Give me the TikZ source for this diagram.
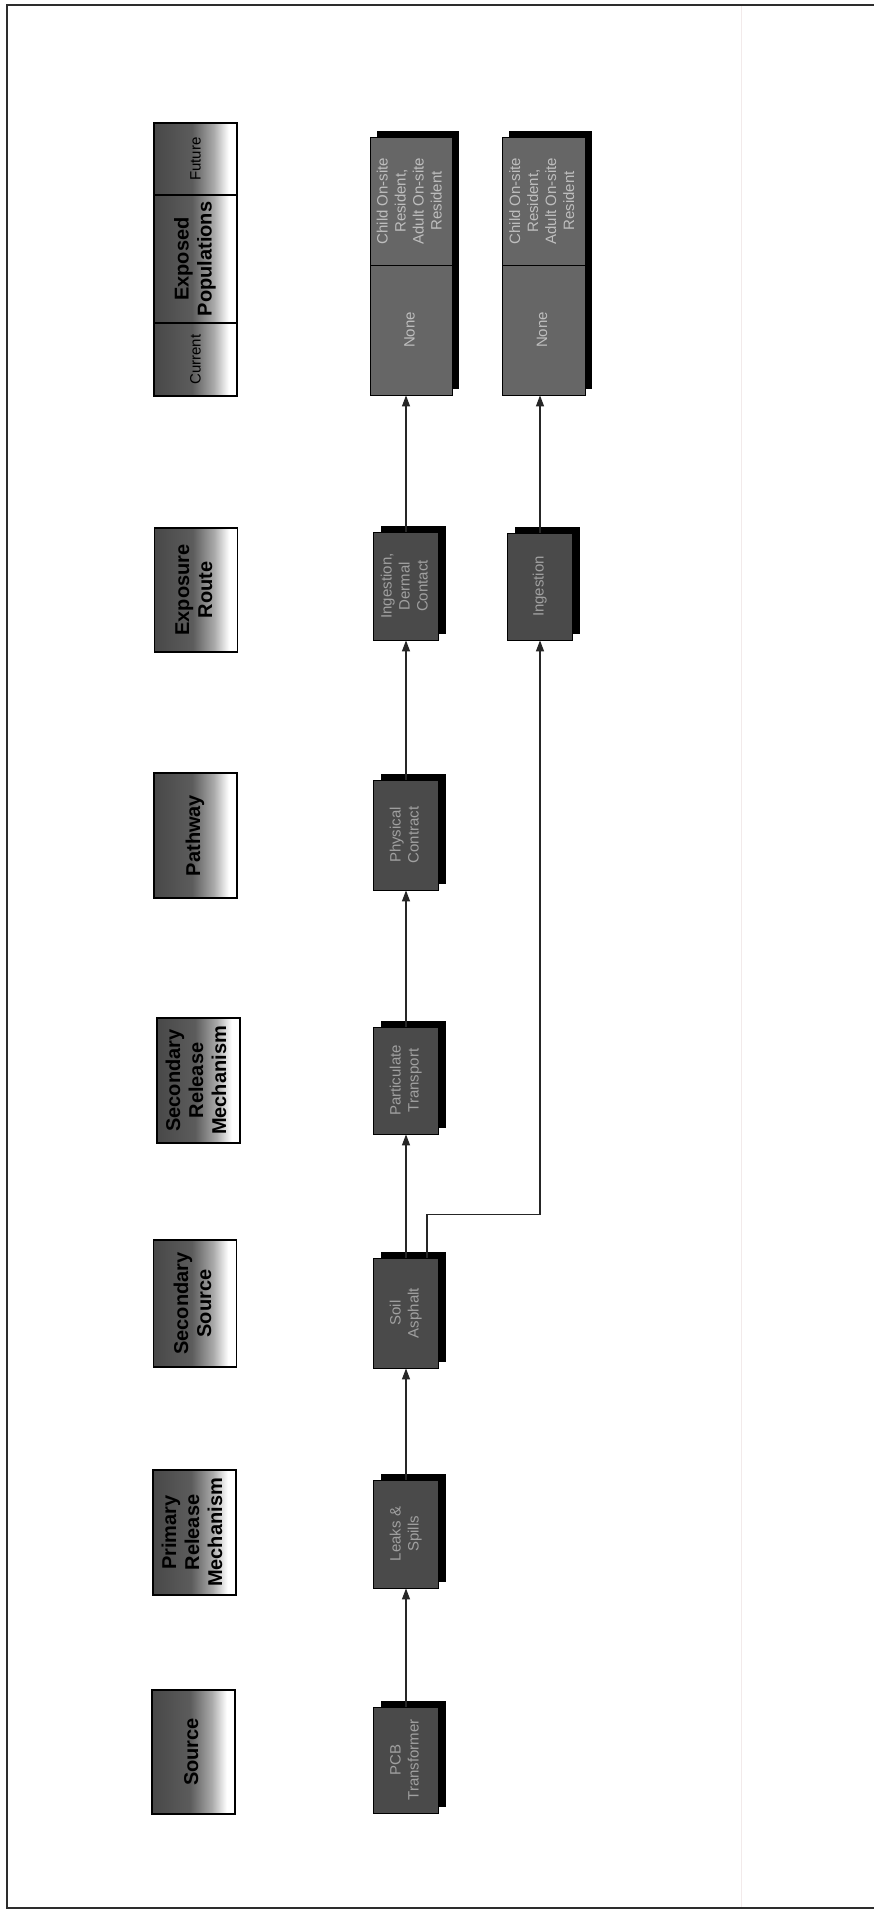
\documentclass[tikz,border=0pt]{standalone}
\usepackage{fontspec}
\setmainfont{Liberation Sans}
\usepackage{graphicx}
\usetikzlibrary{arrows.meta,shadows}
\definecolor{hdark}{RGB}{72,72,72}
\definecolor{hmidA}{RGB}{92,92,92}
\definecolor{hmidB}{RGB}{170,170,170}
\definecolor{cfill}{RGB}{74,74,74}
\definecolor{ctext}{RGB}{160,160,160}
\definecolor{efill}{RGB}{102,102,102}
\definecolor{etext}{RGB}{190,190,190}
\definecolor{framec}{RGB}{45,45,45}
\definecolor{faintc}{RGB}{242,234,234}
\pgfdeclarehorizontalshading{hdrshade}{100bp}{color(0bp)=(hdark); color(25bp)=(hdark); color(48bp)=(hmidA); color(61bp)=(hmidB); color(70bp)=(white); color(100bp)=(white)}
\newcommand{\hdrtext}[1]{\rotatebox{90}{\fontsize{20}{23}\selectfont\bfseries\begin{tabular}{@{}c@{}}#1\end{tabular}}}
\newcommand{\hdrsmall}[1]{\rotatebox{90}{\fontsize{15}{18}\selectfont #1}}
\newcommand{\ctxt}[1]{\rotatebox{90}{\fontsize{15}{18}\selectfont\begin{tabular}{@{}c@{}}#1\end{tabular}}}
\tikzset{
  hdr/.style={draw=black, line width=1.1pt, shade, shading=hdrshade, minimum width=83pt, minimum height=125pt, inner sep=0pt},
  cbox/.style={draw=black, line width=0.8pt, fill=cfill, text=ctext, minimum width=65pt, minimum height=108pt, inner sep=0pt,
    general shadow={fill=black, shadow xshift=7pt, shadow yshift=6pt}},
  ebox/.style={cbox, fill=efill, text=etext, minimum width=82pt},
  arr/.style={draw=black!85, line width=1.2pt, -{Triangle[length=11pt,width=8pt]}}
}
\begin{document}
\begin{tikzpicture}[x=1pt,y=-1pt]
\useasboundingbox (0,0) rectangle (874,1913);
\fill[white] (0,0) rectangle (874,1913);
\draw[faintc, line width=1pt] (741,6) -- (741,1907);
\draw[framec, line width=2pt] (874,5) -- (7,5) -- (7,1908) -- (874,1908);

% header column
\node[hdr, minimum height=72pt] (hfut) at (195.5,159) {\hdrsmall{Future}};
\node[hdr, minimum height=128pt] (hexp) at (195.5,259) {\hdrtext{Exposed\\Populations}};
\node[hdr, minimum height=73pt] (hcur) at (195.5,359.5) {\hdrsmall{Current}};
\node[hdr, minimum height=124pt] (hroute) at (196,590) {\hdrtext{Exposure\\Route}};
\node[hdr] (hpath) at (195.5,835.5) {\hdrtext{Pathway}};
\node[hdr] (hsrm) at (198.5,1080.5) {\hdrtext{Secondary\\Release\\Mechanism}};
\node[hdr, minimum height=127pt] (hss) at (195,1303.5) {\hdrtext{Secondary\\Source}};
\node[hdr] (hprm) at (194.5,1532.5) {\hdrtext{Primary\\Release\\Mechanism}};
\node[hdr, minimum height=124pt] (hsrc) at (193.5,1752) {\hdrtext{Source}};

% main chain
\node[cbox, minimum height=106pt] (pcb) at (406,1760) {\ctxt{PCB\\Transformer}};
\node[cbox] (leaks) at (406,1534) {\ctxt{Leaks \&\\Spills}};
\node[cbox, minimum height=110pt] (soil) at (406,1313) {\ctxt{Soil\\Asphalt}};
\node[cbox, minimum height=107pt] (part) at (406,1080.5) {\ctxt{Particulate\\Transport}};
\node[cbox, minimum height=110pt] (phys) at (406,835) {\ctxt{Physical\\Contract}};
\node[cbox] (ing1) at (406,586) {\ctxt{Ingestion,\\Dermal\\Contact}};
\node[cbox, minimum height=107pt] (ing2) at (540,586.5) {\ctxt{Ingestion}};

% exposed populations
\node[ebox, minimum height=130pt] (exp1c) at (411,330) {\ctxt{None}};
\node[ebox, minimum height=128pt] (exp1f) at (411,201) {\ctxt{Child On-site\\Resident,\\Adult On-site\\Resident}};
\node[ebox, minimum height=130pt, minimum width=83pt] (exp2c) at (543.5,330) {\ctxt{None}};
\node[ebox, minimum height=128pt, minimum width=83pt] (exp2f) at (543.5,201) {\ctxt{Child On-site\\Resident,\\Adult On-site\\Resident}};

% connectors
\draw[arr] (pcb) -- (leaks);
\draw[arr] (leaks) -- (soil);
\draw[arr] (soil) -- (part);
\draw[arr] (part) -- (phys);
\draw[arr] (phys) -- (ing1);
\draw[arr] (ing1.north) -- (ing1.north |- exp1c.south);
\draw[arr] ([xshift=21pt]soil.north) -- ++(0,-43) -| (ing2.south);
\draw[arr] (ing2.north) -- (ing2.north |- exp2c.south);
\end{tikzpicture}
\end{document}
